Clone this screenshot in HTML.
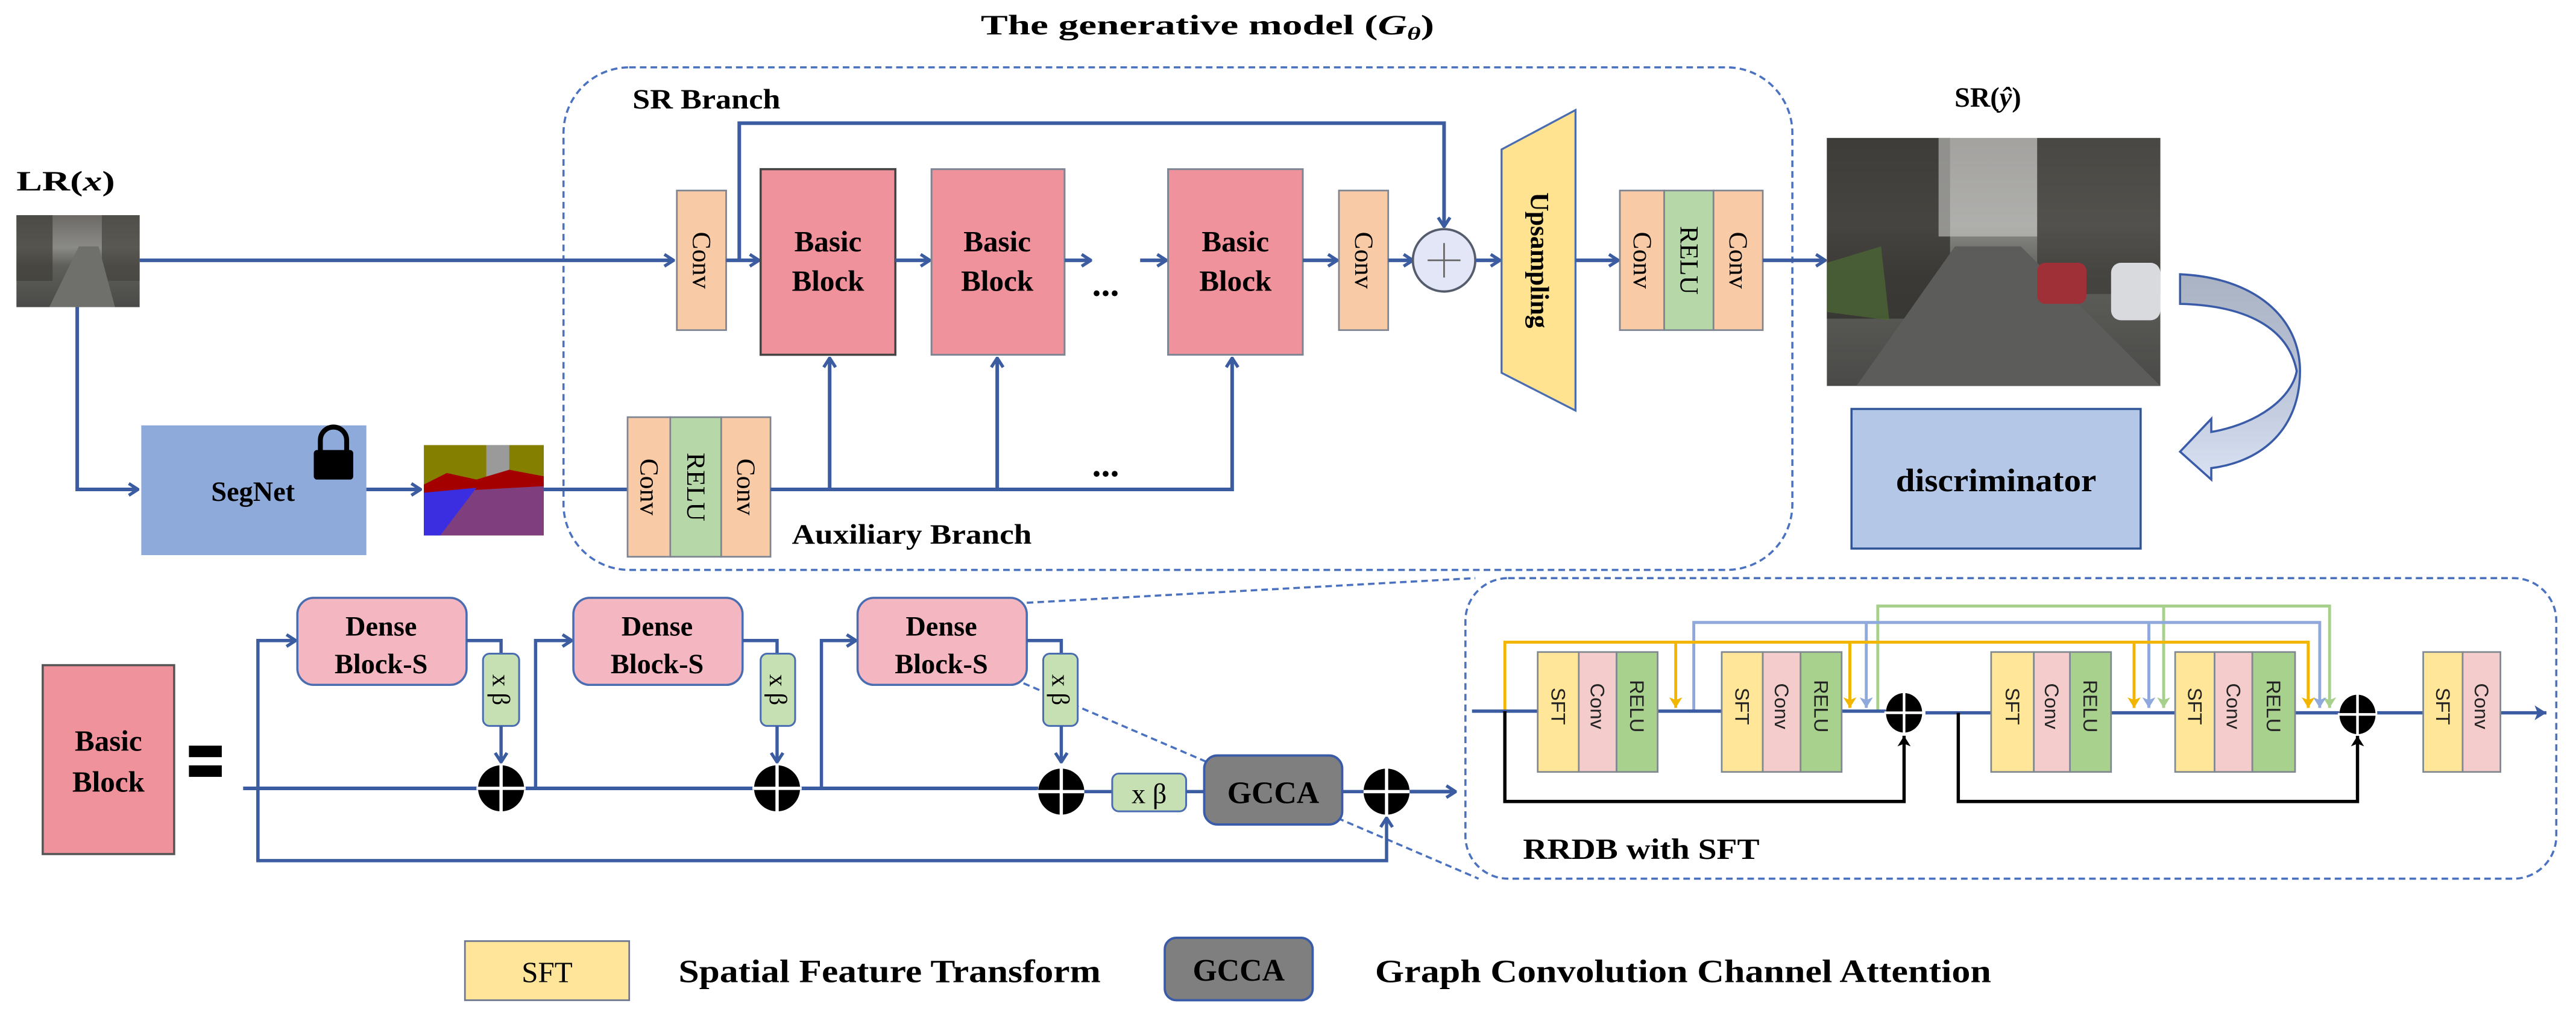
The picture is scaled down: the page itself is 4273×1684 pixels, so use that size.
<!DOCTYPE html>
<html><head><meta charset="utf-8"><style>
html,body{margin:0;padding:0;background:#fff;}
svg{display:block;}
.s{font-family:"Liberation Serif","Times New Roman",serif;font-weight:bold;fill:#000;}
.r{font-family:"Liberation Serif","Times New Roman",serif;fill:#000;}
.a{font-family:"Liberation Sans",Arial,sans-serif;fill:#222;}
</style></head><body>
<svg width="4273" height="1684" viewBox="0 0 1568 618" preserveAspectRatio="none" xmlns="http://www.w3.org/2000/svg">
<defs>
<marker id="ab" viewBox="0 0 10 10" refX="9" refY="5" markerWidth="8" markerHeight="9" orient="auto" markerUnits="userSpaceOnUse">
<path d="M2,0.5 L9,5 L2,9.5" fill="none" stroke="#3b5ca0" stroke-width="2.4"/></marker>
<marker id="abf" viewBox="0 0 10 10" refX="9" refY="5" markerWidth="9" markerHeight="9" orient="auto" markerUnits="userSpaceOnUse">
<path d="M1,0 L9,5 L1,10 L3,5 Z" fill="#3b5ca0"/></marker>
<marker id="ak" viewBox="0 0 10 10" refX="9" refY="5" markerWidth="8" markerHeight="8" orient="auto" markerUnits="userSpaceOnUse">
<path d="M1,0 L9,5 L1,10 L3,5 Z" fill="#000"/></marker>
<marker id="ao" viewBox="0 0 10 10" refX="9" refY="5" markerWidth="8" markerHeight="8" orient="auto" markerUnits="userSpaceOnUse">
<path d="M1,0 L9,5 L1,10 L3,5 Z" fill="#f2b500"/></marker>
<marker id="al" viewBox="0 0 10 10" refX="9" refY="5" markerWidth="8" markerHeight="8" orient="auto" markerUnits="userSpaceOnUse">
<path d="M1,0 L9,5 L1,10 L3,5 Z" fill="#8fa9dc"/></marker>
<marker id="ag" viewBox="0 0 10 10" refX="9" refY="5" markerWidth="8" markerHeight="8" orient="auto" markerUnits="userSpaceOnUse">
<path d="M1,0 L9,5 L1,10 L3,5 Z" fill="#a8d08d"/></marker>
<linearGradient id="street" x1="0" y1="0" x2="0" y2="1">
<stop offset="0" stop-color="#6d6a66"/><stop offset="0.35" stop-color="#8a8a86"/><stop offset="0.55" stop-color="#5e5e5a"/><stop offset="1" stop-color="#4a4a48"/></linearGradient>
<linearGradient id="curv" x1="0" y1="0" x2="0" y2="1">
<stop offset="0" stop-color="#aab3c3"/><stop offset="0.5" stop-color="#b9c3d6"/><stop offset="1" stop-color="#d9e2f3"/></linearGradient>
</defs>

<text class="s" x="597" y="21" font-size="17" textLength="276" lengthAdjust="spacingAndGlyphs">The generative model (<tspan font-style="italic">G</tspan><tspan font-style="italic" font-size="11" dy="3">θ</tspan><tspan dy="-3">)</tspan></text>

<rect x="343" y="41" width="748" height="306" rx="40" fill="none" stroke="#4a72c0" stroke-width="1.3" stroke-dasharray="4,2.5"/>
<text class="s" x="385" y="66" font-size="17" textLength="90" lengthAdjust="spacingAndGlyphs">SR Branch</text>
<text class="s" x="482" y="331" font-size="17" textLength="146" lengthAdjust="spacingAndGlyphs">Auxiliary Branch</text>

<text class="s" x="10" y="116" font-size="17" textLength="60" lengthAdjust="spacingAndGlyphs">LR(<tspan font-style="italic">x</tspan>)</text>
<rect x="10" y="131" width="75" height="56" fill="url(#street)"/>
<rect x="10" y="131" width="22" height="40" fill="#3f3d37" opacity="0.7"/>
<rect x="62" y="131" width="23" height="40" fill="#45433d" opacity="0.7"/>
<polygon points="30,187 48,150 60,150 70,187" fill="#6f6f6c"/>

<line x1="85" y1="158.5" x2="410" y2="158.5" stroke="#3b5ca0" stroke-width="2.2" marker-end="url(#ab)"/>
<rect x="412" y="116" width="30" height="85" fill="#f8cba6" stroke="#7d8593" stroke-width="1"/>
<text class="r" font-size="16" transform="translate(427,158.5) rotate(90)" text-anchor="middle" dominant-baseline="central">Conv</text>
<polyline points="450,158.5 450,75 879,75 879,138" fill="none" stroke="#3b5ca0" stroke-width="2.2" marker-end="url(#ab)"/>
<line x1="442" y1="158.5" x2="462" y2="158.5" stroke="#3b5ca0" stroke-width="2.2" marker-end="url(#ab)"/>

<rect x="463" y="103" width="82" height="113" fill="#ef929c" stroke="#444" stroke-width="1.3"/>
<text class="s" x="504" y="153" font-size="18" text-anchor="middle">Basic</text>
<text class="s" x="504" y="177" font-size="18" text-anchor="middle">Block</text>
<line x1="545" y1="158.5" x2="566" y2="158.5" stroke="#3b5ca0" stroke-width="2.2" marker-end="url(#ab)"/>
<rect x="567" y="103" width="81" height="113" fill="#ef929c" stroke="#7d8593" stroke-width="1.1"/>
<text class="s" x="607" y="153" font-size="18" text-anchor="middle">Basic</text>
<text class="s" x="607" y="177" font-size="18" text-anchor="middle">Block</text>
<line x1="648" y1="158.5" x2="664" y2="158.5" stroke="#3b5ca0" stroke-width="2.2" marker-end="url(#ab)"/>
<text class="s" x="673" y="180" font-size="22" text-anchor="middle">...</text>
<line x1="694" y1="158.5" x2="710" y2="158.5" stroke="#3b5ca0" stroke-width="2.2" marker-end="url(#ab)"/>
<rect x="711" y="103" width="82" height="113" fill="#ef929c" stroke="#7d8593" stroke-width="1.1"/>
<text class="s" x="752" y="153" font-size="18" text-anchor="middle">Basic</text>
<text class="s" x="752" y="177" font-size="18" text-anchor="middle">Block</text>
<line x1="793" y1="158.5" x2="814" y2="158.5" stroke="#3b5ca0" stroke-width="2.2" marker-end="url(#ab)"/>
<rect x="815" y="116" width="30" height="85" fill="#f8cba6" stroke="#7d8593" stroke-width="1"/>
<text class="r" font-size="16" transform="translate(830,158.5) rotate(90)" text-anchor="middle" dominant-baseline="central">Conv</text>
<line x1="845" y1="158.5" x2="860" y2="158.5" stroke="#3b5ca0" stroke-width="2.2" marker-end="url(#ab)"/>
<ellipse cx="879" cy="158.5" rx="19" ry="19" fill="#e3e6f6" stroke="#555d6d" stroke-width="1.4"/>
<line x1="869" y1="158.5" x2="889" y2="158.5" stroke="#666" stroke-width="1"/>
<line x1="879" y1="148" x2="879" y2="169" stroke="#666" stroke-width="1"/>
<line x1="898" y1="158.5" x2="913" y2="158.5" stroke="#3b5ca0" stroke-width="2.2" marker-end="url(#ab)"/>

<polygon points="914,91 959,67 959,250 914,227" fill="#ffe390" stroke="#4a6cb0" stroke-width="1.2"/>
<text class="s" font-size="16" transform="translate(937,158.5) rotate(90)" text-anchor="middle" dominant-baseline="central">Upsampling</text>
<line x1="959" y1="158.5" x2="985" y2="158.5" stroke="#3b5ca0" stroke-width="2.2" marker-end="url(#ab)"/>
<rect x="986" y="116" width="27" height="85" fill="#f8cba6" stroke="#7d8593" stroke-width="1"/>
<rect x="1013" y="116" width="30" height="85" fill="#b6d7a8" stroke="#7d8593" stroke-width="1"/>
<rect x="1043" y="116" width="30" height="85" fill="#f8cba6" stroke="#7d8593" stroke-width="1"/>
<text class="r" font-size="16" transform="translate(999.5,158.5) rotate(90)" text-anchor="middle" dominant-baseline="central">Conv</text>
<text class="r" font-size="16" transform="translate(1028,158.5) rotate(90)" text-anchor="middle" dominant-baseline="central">RELU</text>
<text class="r" font-size="16" transform="translate(1058,158.5) rotate(90)" text-anchor="middle" dominant-baseline="central">Conv</text>
<line x1="1073" y1="158.5" x2="1111" y2="158.5" stroke="#3b5ca0" stroke-width="2.2" marker-end="url(#ab)"/>

<text class="s" x="1210" y="65" font-size="17" text-anchor="middle">SR(<tspan font-style="italic">ŷ</tspan>)</text>
<rect x="1112" y="84" width="203" height="151" fill="url(#street)"/>
<rect x="1112" y="84" width="75" height="110" fill="#2f2e2a" opacity="0.75"/>
<rect x="1240" y="84" width="75" height="95" fill="#3a3934" opacity="0.7"/>
<rect x="1180" y="84" width="60" height="60" fill="#c8c8c6" opacity="0.6"/>
<polygon points="1112,190 1112,160 1145,150 1150,195" fill="#4d6b34" opacity="0.7"/>
<polygon points="1130,235 1190,150 1230,150 1315,235" fill="#5c5c5a"/>
<rect x="1240" y="160" width="30" height="25" rx="5" fill="#a03038"/>
<rect x="1285" y="160" width="30" height="35" rx="6" fill="#d8dadd"/>

<path d="M1327,167 C1372,169 1400,193 1400,226 C1400,260 1378,281 1346,285 L1346,292 L1327,275 L1346,255 L1346,263 C1375,258 1395,242 1398,226 C1393,200 1368,186 1327,185 Z" fill="url(#curv)" stroke="#3a5ba8" stroke-width="1.3"/>

<rect x="1127" y="249" width="176" height="85" fill="#b4c7e7" stroke="#2f5597" stroke-width="1.3"/>
<text class="s" x="1215" y="299" font-size="20" text-anchor="middle" textLength="122" lengthAdjust="spacingAndGlyphs">discriminator</text>

<polyline points="47,187 47,298 84,298" fill="none" stroke="#3b5ca0" stroke-width="2.2" marker-end="url(#ab)"/>
<rect x="86" y="259" width="137" height="79" fill="#8eaadb"/>
<text class="s" x="154" y="305" font-size="17" text-anchor="middle">SegNet</text>
<rect x="191" y="274" width="24" height="18" rx="2" fill="#000"/>
<path d="M195,275 L195,268 A8,8 0 0 1 211,268 L211,275" fill="none" stroke="#000" stroke-width="3"/>
<line x1="223" y1="298" x2="256" y2="298" stroke="#3b5ca0" stroke-width="2.2" marker-end="url(#ab)"/>
<rect x="258" y="271" width="73" height="55" fill="#857f00"/>
<rect x="296" y="271" width="14" height="22" fill="#9a9a9a"/>
<polygon points="258,295 272,288 290,292 310,286 331,290 331,302 258,305" fill="#a40000"/>
<polygon points="258,300 331,296 331,326 258,326" fill="#7f3f7f"/>
<polygon points="258,300 290,297 268,326 258,326" fill="#3a2ee0"/>
<line x1="331" y1="298" x2="382" y2="298" stroke="#3b5ca0" stroke-width="2.2"/>
<rect x="382" y="254" width="26" height="85" fill="#f8cba6" stroke="#7d8593" stroke-width="1"/>
<rect x="408" y="254" width="31" height="85" fill="#b6d7a8" stroke="#7d8593" stroke-width="1"/>
<rect x="439" y="254" width="30" height="85" fill="#f8cba6" stroke="#7d8593" stroke-width="1"/>
<text class="r" font-size="16" transform="translate(395,296.5) rotate(90)" text-anchor="middle" dominant-baseline="central">Conv</text>
<text class="r" font-size="16" transform="translate(423.5,296.5) rotate(90)" text-anchor="middle" dominant-baseline="central">RELU</text>
<text class="r" font-size="16" transform="translate(454,296.5) rotate(90)" text-anchor="middle" dominant-baseline="central">Conv</text>
<polyline points="469,298 750,298 750,218" fill="none" stroke="#3b5ca0" stroke-width="2.2" marker-end="url(#ab)"/>
<line x1="505" y1="298" x2="505" y2="218" stroke="#3b5ca0" stroke-width="2.2" marker-end="url(#ab)"/>
<line x1="607" y1="298" x2="607" y2="218" stroke="#3b5ca0" stroke-width="2.2" marker-end="url(#ab)"/>
<text class="s" x="673" y="290" font-size="22" text-anchor="middle">...</text>

<rect x="26" y="405" width="80" height="115" fill="#ef929c" stroke="#555" stroke-width="1.3"/>
<text class="s" x="66" y="457" font-size="18" text-anchor="middle">Basic</text>
<text class="s" x="66" y="482" font-size="18" text-anchor="middle">Block</text>
<rect x="115" y="454" width="20" height="7" fill="#000"/>
<rect x="115" y="466" width="20" height="7" fill="#000"/>

<line x1="625" y1="367" x2="898" y2="352" stroke="#4a72c0" stroke-width="1.3" stroke-dasharray="4,2.5"/>
<line x1="623" y1="416" x2="900" y2="535" stroke="#4a72c0" stroke-width="1.3" stroke-dasharray="4,2.5"/>

<line x1="148" y1="480" x2="291" y2="480" stroke="#3b5ca0" stroke-width="2.2"/>
<line x1="319" y1="480" x2="459" y2="480" stroke="#3b5ca0" stroke-width="2.2"/>
<line x1="487" y1="480" x2="632" y2="480" stroke="#3b5ca0" stroke-width="2.2"/>
<polyline points="157,524 157,390 180,390" fill="none" stroke="#3b5ca0" stroke-width="2" marker-end="url(#ab)"/>
<polyline points="326,480 326,390 348,390" fill="none" stroke="#3b5ca0" stroke-width="2" marker-end="url(#ab)"/>
<polyline points="500,480 500,390 521,390" fill="none" stroke="#3b5ca0" stroke-width="2" marker-end="url(#ab)"/>

<rect x="181" y="364" width="103" height="53" rx="10" fill="#f4b6c0" stroke="#4a6cb0" stroke-width="1.3"/>
<text class="s" x="232" y="387" font-size="17" text-anchor="middle">Dense</text>
<text class="s" x="232" y="410" font-size="17" text-anchor="middle">Block-S</text>
<polyline points="284,390 305,390 305,398" fill="none" stroke="#3b5ca0" stroke-width="2"/>
<rect x="294" y="398" width="22" height="44" rx="4" fill="#c6e0b4" stroke="#4a6cb0" stroke-width="1.1"/>
<text class="r" font-size="15" transform="translate(305,420) rotate(90)" text-anchor="middle" dominant-baseline="central">x β</text>
<line x1="305" y1="442" x2="305" y2="464" stroke="#3b5ca0" stroke-width="2" marker-end="url(#ab)"/>

<rect x="349" y="364" width="103" height="53" rx="10" fill="#f4b6c0" stroke="#4a6cb0" stroke-width="1.3"/>
<text class="s" x="400" y="387" font-size="17" text-anchor="middle">Dense</text>
<text class="s" x="400" y="410" font-size="17" text-anchor="middle">Block-S</text>
<polyline points="452,390 473,390 473,398" fill="none" stroke="#3b5ca0" stroke-width="2"/>
<rect x="463" y="398" width="21" height="44" rx="4" fill="#c6e0b4" stroke="#4a6cb0" stroke-width="1.1"/>
<text class="r" font-size="15" transform="translate(473.5,420) rotate(90)" text-anchor="middle" dominant-baseline="central">x β</text>
<line x1="473" y1="442" x2="473" y2="464" stroke="#3b5ca0" stroke-width="2" marker-end="url(#ab)"/>

<rect x="522" y="364" width="103" height="53" rx="10" fill="#f4b6c0" stroke="#4a6cb0" stroke-width="1.3"/>
<text class="s" x="573" y="387" font-size="17" text-anchor="middle">Dense</text>
<text class="s" x="573" y="410" font-size="17" text-anchor="middle">Block-S</text>
<polyline points="625,390 646,390 646,398" fill="none" stroke="#3b5ca0" stroke-width="2"/>
<rect x="635" y="398" width="21" height="44" rx="4" fill="#c6e0b4" stroke="#4a6cb0" stroke-width="1.1"/>
<text class="r" font-size="15" transform="translate(645.5,420) rotate(90)" text-anchor="middle" dominant-baseline="central">x β</text>
<line x1="646" y1="442" x2="646" y2="464" stroke="#3b5ca0" stroke-width="2" marker-end="url(#ab)"/>

<ellipse cx="305" cy="480" rx="14" ry="14" fill="#000"/>
<line x1="290" y1="480" x2="320" y2="480" stroke="#fff" stroke-width="2"/><line x1="305" y1="465" x2="305" y2="495" stroke="#fff" stroke-width="2"/>
<ellipse cx="473" cy="480" rx="14" ry="14" fill="#000"/>
<line x1="458" y1="480" x2="488" y2="480" stroke="#fff" stroke-width="2"/><line x1="473" y1="465" x2="473" y2="495" stroke="#fff" stroke-width="2"/>
<ellipse cx="646" cy="482" rx="14" ry="14" fill="#000"/>
<line x1="631" y1="482" x2="661" y2="482" stroke="#fff" stroke-width="2"/><line x1="646" y1="467" x2="646" y2="497" stroke="#fff" stroke-width="2"/>
<ellipse cx="844" cy="482" rx="14" ry="14" fill="#000"/>
<line x1="829" y1="482" x2="859" y2="482" stroke="#fff" stroke-width="2"/><line x1="844" y1="467" x2="844" y2="497" stroke="#fff" stroke-width="2"/>

<line x1="660" y1="482" x2="677" y2="482" stroke="#3b5ca0" stroke-width="2"/>
<rect x="677" y="471" width="45" height="23" rx="4" fill="#c6e0b4" stroke="#4a6cb0" stroke-width="1.1"/>
<text class="r" x="699.5" y="489" font-size="17" text-anchor="middle">x β</text>
<line x1="722" y1="482" x2="733" y2="482" stroke="#3b5ca0" stroke-width="2"/>
<rect x="733" y="460" width="84" height="42" rx="8" fill="#7f7f7f" stroke="#3a5ba8" stroke-width="1.4"/>
<text class="s" x="775" y="489" font-size="19" text-anchor="middle">GCCA</text>
<line x1="817" y1="482" x2="830" y2="482" stroke="#3b5ca0" stroke-width="2"/>
<polyline points="157,480 157,524 844,524 844,498" fill="none" stroke="#3b5ca0" stroke-width="2" marker-end="url(#ab)"/>
<line x1="858" y1="482" x2="886" y2="482" stroke="#3b5ca0" stroke-width="2.2" marker-end="url(#ab)"/>

<rect x="892" y="352" width="664" height="183" rx="26" fill="none" stroke="#4a72c0" stroke-width="1.3" stroke-dasharray="4,2.5"/>
<text class="s" x="927" y="523" font-size="18" textLength="144" lengthAdjust="spacingAndGlyphs">RRDB with SFT</text>

<polyline points="1143,433 1143,369 1418,369 1418,431" fill="none" stroke="#a8d08d" stroke-width="1.8" marker-end="url(#ag)"/>
<line x1="1317" y1="369" x2="1317" y2="431" stroke="#a8d08d" stroke-width="1.8" marker-end="url(#ag)"/>
<polyline points="1031,433 1031,379 1412,379 1412,431" fill="none" stroke="#8fa9dc" stroke-width="1.8" marker-end="url(#al)"/>
<line x1="1136" y1="379" x2="1136" y2="431" stroke="#8fa9dc" stroke-width="1.8" marker-end="url(#al)"/>
<line x1="1308" y1="379" x2="1308" y2="431" stroke="#8fa9dc" stroke-width="1.8" marker-end="url(#al)"/>
<polyline points="916,433 916,391 1405,391 1405,431" fill="none" stroke="#f2b500" stroke-width="1.8" marker-end="url(#ao)"/>
<line x1="1020" y1="391" x2="1020" y2="431" stroke="#f2b500" stroke-width="1.8" marker-end="url(#ao)"/>
<line x1="1126" y1="391" x2="1126" y2="431" stroke="#f2b500" stroke-width="1.8" marker-end="url(#ao)"/>
<line x1="1299" y1="391" x2="1299" y2="431" stroke="#f2b500" stroke-width="1.8" marker-end="url(#ao)"/>

<line x1="896" y1="433" x2="1148" y2="433" stroke="#3b5ca0" stroke-width="2"/>
<line x1="1172" y1="434" x2="1424" y2="434" stroke="#3b5ca0" stroke-width="2"/>
<line x1="1447" y1="434" x2="1550" y2="434" stroke="#3b5ca0" stroke-width="2" marker-end="url(#abf)"/>

<polyline points="916,433 916,488 1159,488 1159,448" fill="none" stroke="#000" stroke-width="2" marker-end="url(#ak)"/>
<polyline points="1192,434 1192,488 1435,488 1435,448" fill="none" stroke="#000" stroke-width="2" marker-end="url(#ak)"/>

<g stroke="#808890" stroke-width="1">
<rect x="936" y="397" width="25" height="73" fill="#ffe699"/><rect x="961" y="397" width="23" height="73" fill="#f4cccc"/><rect x="984" y="397" width="25" height="73" fill="#a9d18e"/>
<rect x="1048" y="397" width="25" height="73" fill="#ffe699"/><rect x="1073" y="397" width="23" height="73" fill="#f4cccc"/><rect x="1096" y="397" width="25" height="73" fill="#a9d18e"/>
<rect x="1212" y="397" width="26" height="73" fill="#ffe699"/><rect x="1238" y="397" width="22" height="73" fill="#f4cccc"/><rect x="1260" y="397" width="25" height="73" fill="#a9d18e"/>
<rect x="1324" y="397" width="24" height="73" fill="#ffe699"/><rect x="1348" y="397" width="23" height="73" fill="#f4cccc"/><rect x="1371" y="397" width="26" height="73" fill="#a9d18e"/>
<rect x="1475" y="397" width="24" height="73" fill="#ffe699"/><rect x="1499" y="397" width="23" height="73" fill="#f4cccc"/>
</g>
<g class="a" font-size="12">
<text transform="translate(948.5,430) rotate(90)" text-anchor="middle" dominant-baseline="central">SFT</text>
<text transform="translate(972.5,430) rotate(90)" text-anchor="middle" dominant-baseline="central">Conv</text>
<text transform="translate(996.5,430) rotate(90)" text-anchor="middle" dominant-baseline="central">RELU</text>
<text transform="translate(1060.5,430) rotate(90)" text-anchor="middle" dominant-baseline="central">SFT</text>
<text transform="translate(1084.5,430) rotate(90)" text-anchor="middle" dominant-baseline="central">Conv</text>
<text transform="translate(1108.5,430) rotate(90)" text-anchor="middle" dominant-baseline="central">RELU</text>
<text transform="translate(1225,430) rotate(90)" text-anchor="middle" dominant-baseline="central">SFT</text>
<text transform="translate(1249,430) rotate(90)" text-anchor="middle" dominant-baseline="central">Conv</text>
<text transform="translate(1272.5,430) rotate(90)" text-anchor="middle" dominant-baseline="central">RELU</text>
<text transform="translate(1336,430) rotate(90)" text-anchor="middle" dominant-baseline="central">SFT</text>
<text transform="translate(1359.5,430) rotate(90)" text-anchor="middle" dominant-baseline="central">Conv</text>
<text transform="translate(1384,430) rotate(90)" text-anchor="middle" dominant-baseline="central">RELU</text>
<text transform="translate(1487,430) rotate(90)" text-anchor="middle" dominant-baseline="central">SFT</text>
<text transform="translate(1510.5,430) rotate(90)" text-anchor="middle" dominant-baseline="central">Conv</text>
</g>
<ellipse cx="1159" cy="434" rx="11" ry="12" fill="#000"/>
<line x1="1147" y1="434" x2="1171" y2="434" stroke="#fff" stroke-width="1.6"/><line x1="1159" y1="421" x2="1159" y2="447" stroke="#fff" stroke-width="1.6"/>
<ellipse cx="1435" cy="435" rx="11" ry="12" fill="#000"/>
<line x1="1423" y1="435" x2="1447" y2="435" stroke="#fff" stroke-width="1.6"/><line x1="1435" y1="422" x2="1435" y2="448" stroke="#fff" stroke-width="1.6"/>

<rect x="283" y="573" width="100" height="36" fill="#ffe599" stroke="#6d7890" stroke-width="1"/>
<text class="r" x="333" y="598" font-size="18" text-anchor="middle">SFT</text>
<text class="s" x="413" y="598" font-size="20" textLength="257" lengthAdjust="spacingAndGlyphs">Spatial Feature Transform</text>
<rect x="709" y="571" width="90" height="38" rx="7" fill="#7f7f7f" stroke="#3a5ba8" stroke-width="1.4"/>
<text class="s" x="754" y="597" font-size="19" text-anchor="middle">GCCA</text>
<text class="s" x="837" y="598" font-size="20" textLength="375" lengthAdjust="spacingAndGlyphs">Graph Convolution Channel Attention</text>
</svg>
</body></html>
